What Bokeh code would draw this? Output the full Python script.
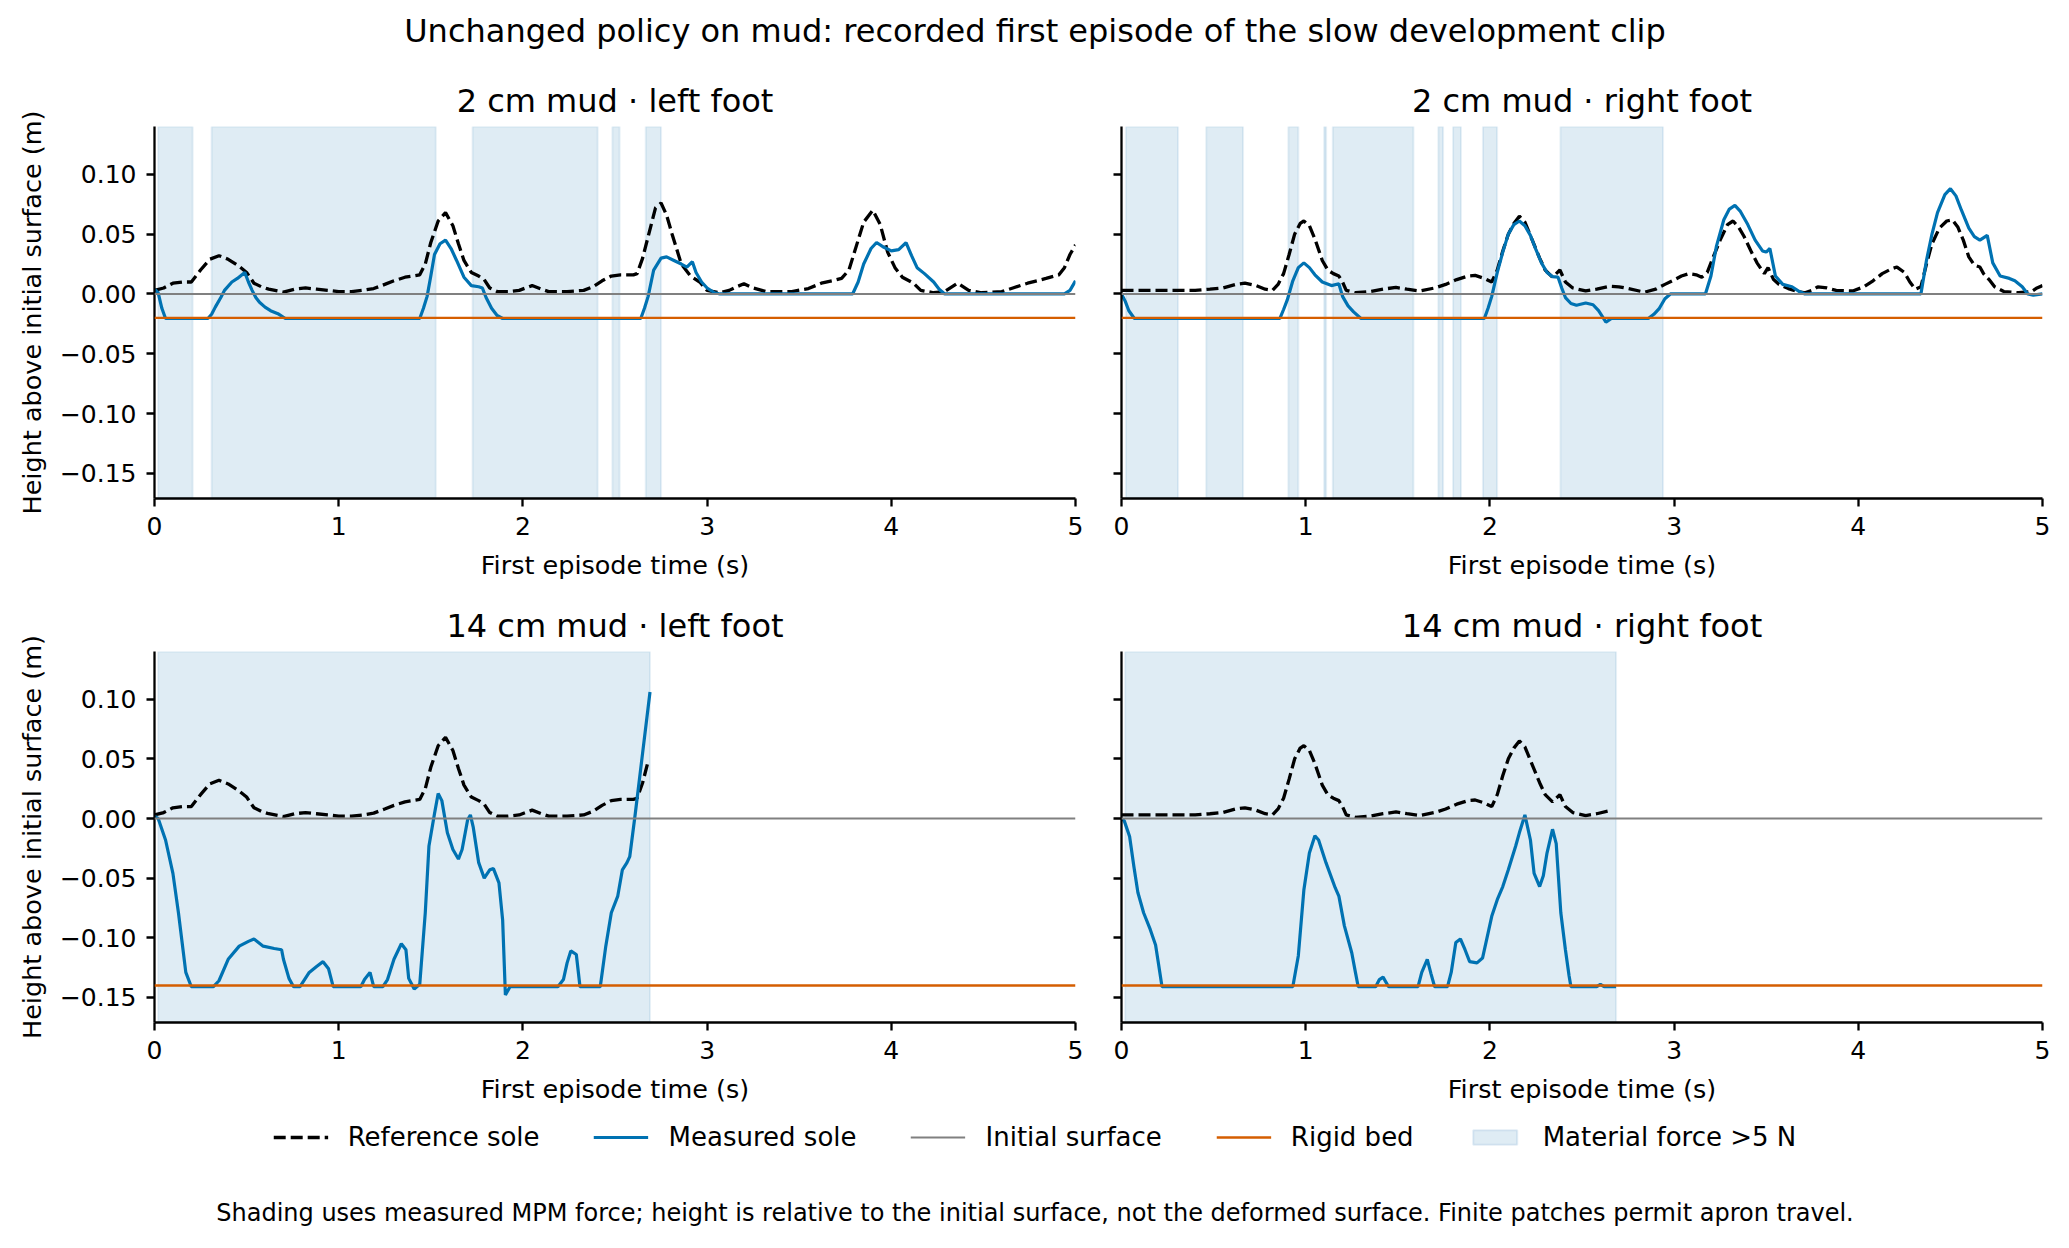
from bokeh.plotting import figure
from bokeh.layouts import column, row
from bokeh.models import (Range1d, FixedTicker, CustomJSTickFormatter, Span, Legend,
                          LegendItem, Title)
from bokeh.embed import file_html
from bokeh.resources import INLINE

FONT = "DejaVu Sans"
NAN = float("nan")

# ---------------- data ----------------
x_ticks = [0, 1, 2, 3, 4, 5]
y_ticks = [-0.15, -0.10, -0.05, 0.0, 0.05, 0.10]
y_lo, y_hi = -0.171, 0.140
initial_surface = 0.0
bed_2cm = -0.02
bed_14cm = -0.14
episode_end_14_left = 2.69
episode_end_14_right = 2.685

ref_left_t = [0.00,0.05,0.10,0.15,0.20,0.25,0.30,0.35,0.40,0.46,0.50,0.54,0.58,0.62,0.70,0.76,0.82,0.88,0.94,1.00,
              1.07,1.13,1.19,1.25,1.30,1.36,1.44,1.47,1.50,1.54,1.58,1.62,1.65,1.68,1.72,1.76,1.79,1.82,1.86,1.92,
              1.98,2.05,2.10,2.14,2.24,2.33,2.38,2.43,2.48,2.53,2.60,2.62,2.65,2.68,2.72,2.75,2.78,2.81,2.86,2.91,
              2.96,3.00,3.07,3.12,3.16,3.20,3.25,3.32,3.46,3.55,3.62,3.68,3.73,3.77,3.81,3.85,3.90,3.94,3.98,4.02,
              4.06,4.12,4.16,4.23,4.29,4.36,4.42,4.49,4.60,4.66,4.74,4.84,4.91,4.94,4.97,5.00]
ref_left_y = [0.003,0.005,0.009,0.010,0.010,0.020,0.029,0.032,0.029,0.023,0.018,0.009,0.006,0.004,0.0016,0.004,0.005,0.004,0.003,0.002,
              0.002,0.003,0.0045,0.008,0.011,0.014,0.016,0.025,0.043,0.061,0.068,0.057,0.042,0.028,0.018,0.015,0.012,0.005,0.002,0.002,
              0.003,0.007,0.004,0.002,0.002,0.003,0.006,0.011,0.015,0.016,0.016,0.017,0.030,0.048,0.072,0.076,0.066,0.050,0.025,0.015,
              0.010,0.003,0.001,0.003,0.006,0.0085,0.005,0.002,0.002,0.0045,0.009,0.011,0.013,0.020,0.040,0.060,0.070,0.058,0.035,0.022,
              0.014,0.009,0.003,0.001,0.002,0.009,0.003,0.001,0.002,0.005,0.009,0.013,0.016,0.022,0.033,0.041]

ref_right_t = [0.00,0.20,0.40,0.48,0.55,0.62,0.67,0.73,0.78,0.82,0.85,0.88,0.91,0.94,0.97,0.99,1.02,1.05,1.09,1.12,
               1.15,1.18,1.20,1.22,1.27,1.35,1.42,1.49,1.55,1.62,1.70,1.76,1.82,1.88,1.92,1.97,2.01,2.04,2.07,2.10,
               2.13,2.16,2.19,2.23,2.27,2.30,2.34,2.36,2.38,2.41,2.45,2.52,2.58,2.65,2.70,2.75,2.84,2.90,2.95,2.99,
               3.04,3.08,3.12,3.15,3.18,3.21,3.25,3.29,3.32,3.35,3.38,3.42,3.45,3.49,3.51,3.54,3.57,3.62,3.67,3.71,
               3.75,3.78,3.83,3.88,3.97,4.03,4.08,4.13,4.18,4.21,4.25,4.28,4.31,4.34,4.37,4.40,4.44,4.48,4.51,4.54,
               4.57,4.60,4.63,4.66,4.68,4.71,4.74,4.79,4.87,4.94,4.97,5.00]
ref_right_y = [0.003,0.003,0.003,0.004,0.005,0.008,0.009,0.007,0.004,0.003,0.008,0.017,0.033,0.050,0.059,0.061,0.057,0.046,0.028,0.020,
               0.017,0.015,0.010,0.003,0.001,0.002,0.004,0.0055,0.004,0.0025,0.005,0.008,0.012,0.015,0.0155,0.013,0.010,0.020,0.036,0.050,
               0.059,0.065,0.060,0.045,0.030,0.020,0.014,0.017,0.020,0.010,0.005,0.0025,0.004,0.0065,0.006,0.0045,0.0015,0.004,0.008,0.011,
               0.015,0.017,0.016,0.014,0.018,0.030,0.045,0.058,0.061,0.056,0.048,0.035,0.026,0.017,0.022,0.012,0.008,0.0045,0.002,0.001,
               0.003,0.006,0.005,0.003,0.0025,0.006,0.011,0.017,0.021,0.0225,0.018,0.010,0.004,0.006,0.025,0.042,0.055,0.061,0.062,0.056,
               0.045,0.031,0.024,0.0225,0.017,0.012,0.006,0.002,0.001,0.002,0.005,0.007]

meas_l2_t = [0.00,0.02,0.04,0.06,0.29,0.31,0.33,0.36,0.38,0.42,0.45,0.49,0.51,0.53,0.55,0.57,0.60,0.63,0.67,0.71,
             1.44,1.46,1.48,1.50,1.52,1.55,1.58,1.61,1.64,1.68,1.72,1.76,1.78,1.80,1.83,1.86,1.89,2.64,2.66,2.68,
             2.71,2.75,2.78,2.82,2.86,2.89,2.92,2.94,2.97,3.00,3.04,3.07,3.79,3.82,3.85,3.89,3.92,3.96,4.00,4.04,
             4.08,4.11,4.14,4.18,4.23,4.26,4.29,4.94,4.97,5.00]
meas_l2_y = [0.004,0.001,-0.012,-0.0205,-0.0205,-0.017,-0.011,-0.003,0.003,0.010,0.013,0.018,0.010,0.003,-0.003,-0.007,-0.011,-0.014,-0.0165,-0.0205,
             -0.0205,-0.012,-0.002,0.015,0.033,0.042,0.045,0.038,0.028,0.014,0.007,0.006,0.005,-0.003,-0.012,-0.018,-0.0205,-0.0205,-0.012,-0.002,
             0.020,0.030,0.031,0.028,0.025,0.0225,0.027,0.018,0.010,0.005,0.001,0.000,0.000,0.010,0.025,0.038,0.043,0.039,0.036,0.037,
             0.043,0.032,0.022,0.017,0.010,0.004,0.000,0.000,0.003,0.011]

meas_r2_t = [0.00,0.02,0.04,0.07,0.86,0.88,0.90,0.93,0.96,0.99,1.02,1.05,1.09,1.14,1.18,1.20,1.23,1.26,1.30,1.97,
             1.99,2.01,2.04,2.07,2.10,2.13,2.16,2.19,2.22,2.25,2.28,2.31,2.34,2.37,2.39,2.41,2.44,2.47,2.52,2.56,
             2.59,2.63,2.66,2.86,2.89,2.92,2.95,2.98,3.17,3.20,3.23,3.27,3.30,3.33,3.36,3.40,3.44,3.48,3.50,3.52,
             3.55,3.59,3.64,3.68,3.71,4.34,4.37,4.40,4.43,4.47,4.50,4.53,4.56,4.60,4.63,4.66,4.70,4.73,4.77,4.82,
             4.85,4.89,4.92,4.95,5.00]
meas_r2_y = [0.000,-0.006,-0.014,-0.0205,-0.0205,-0.013,-0.005,0.011,0.022,0.026,0.022,0.016,0.010,0.007,0.0085,-0.002,-0.010,-0.015,-0.0205,-0.0205,
             -0.012,-0.002,0.018,0.035,0.050,0.058,0.061,0.057,0.049,0.037,0.026,0.018,0.0145,0.014,0.005,-0.003,-0.008,-0.0095,-0.0075,-0.009,
             -0.014,-0.0235,-0.0205,-0.0205,-0.017,-0.012,-0.004,0.000,0.000,0.015,0.040,0.062,0.071,0.074,0.069,0.058,0.045,0.036,0.035,0.038,
             0.015,0.008,0.006,0.002,0.000,0.000,0.028,0.050,0.068,0.083,0.088,0.082,0.070,0.055,0.048,0.045,0.049,0.026,0.015,0.013,
             0.011,0.006,0.000,-0.001,0.000]

meas_l14_t = [0.00,0.02,0.06,0.10,0.13,0.17,0.20,0.32,0.35,0.40,0.46,0.51,0.54,0.59,0.65,0.69,0.70,0.73,0.755,0.79,
              0.84,0.88,0.915,0.945,0.97,1.12,1.14,1.17,1.19,1.24,1.265,1.30,1.34,1.365,1.38,1.41,1.44,1.47,1.49,1.52,
              1.54,1.56,1.59,1.62,1.65,1.67,1.70,1.715,1.73,1.76,1.79,1.82,1.84,1.87,1.89,1.905,1.93,2.19,2.22,2.24,
              2.26,2.29,2.31,2.42,2.45,2.48,2.515,2.54,2.565,2.58,2.61,2.65,2.69]
meas_l14_y = [0.002,0.000,-0.018,-0.046,-0.079,-0.129,-0.141,-0.141,-0.136,-0.118,-0.107,-0.103,-0.101,-0.107,-0.109,-0.110,-0.118,-0.134,-0.141,-0.141,
              -0.129,-0.124,-0.120,-0.126,-0.141,-0.141,-0.135,-0.129,-0.141,-0.141,-0.135,-0.118,-0.105,-0.110,-0.134,-0.143,-0.139,-0.079,-0.023,0.004,
              0.021,0.015,-0.012,-0.026,-0.034,-0.026,-0.001,0.003,-0.007,-0.037,-0.050,-0.043,-0.042,-0.054,-0.085,-0.148,-0.141,-0.141,-0.135,-0.121,
              -0.111,-0.114,-0.141,-0.141,-0.107,-0.079,-0.065,-0.043,-0.037,-0.032,0.004,0.055,0.106]

meas_r14_t = [0.00,0.015,0.044,0.067,0.089,0.12,0.156,0.185,0.20,0.22,0.93,0.96,0.99,1.02,1.05,1.07,1.11,1.16,1.18,1.21,
              1.25,1.27,1.285,1.38,1.40,1.42,1.45,1.61,1.63,1.66,1.68,1.70,1.77,1.79,1.815,1.84,1.865,1.89,1.93,1.96,
              1.99,2.01,2.04,2.07,2.10,2.14,2.16,2.19,2.22,2.24,2.27,2.29,2.31,2.34,2.36,2.385,2.41,2.43,2.44,2.58,
              2.60,2.62,2.685]
meas_r14_y = [0.000,-0.002,-0.015,-0.040,-0.062,-0.079,-0.093,-0.106,-0.121,-0.141,-0.141,-0.115,-0.060,-0.029,-0.0145,-0.018,-0.037,-0.058,-0.065,-0.090,
              -0.1125,-0.129,-0.141,-0.141,-0.135,-0.133,-0.141,-0.141,-0.129,-0.118,-0.130,-0.141,-0.141,-0.129,-0.104,-0.101,-0.110,-0.120,-0.121,-0.117,
              -0.096,-0.082,-0.068,-0.057,-0.043,-0.023,-0.012,0.003,-0.018,-0.046,-0.057,-0.048,-0.029,-0.009,-0.021,-0.079,-0.110,-0.132,-0.141,-0.141,
              -0.139,-0.141,-0.141]

shade_l2_start = [0.02, 0.31, 1.727, 2.486, 2.667]
shade_l2_end = [0.207, 1.527, 2.406, 2.525, 2.75]
shade_r2_start = [0.024, 0.46, 0.906, 1.10, 1.147, 1.72, 1.80, 1.962, 2.383]
shade_r2_end = [0.307, 0.66, 0.96, 1.111, 1.585, 1.746, 1.843, 2.039, 2.94]
shade_l14_start = [0.02]
shade_l14_end = [2.69]
shade_r14_start = [0.02]
shade_r14_end = [2.685]

for a, b in [(ref_left_t, ref_left_y), (ref_right_t, ref_right_y), (meas_l2_t, meas_l2_y),
             (meas_r2_t, meas_r2_y), (meas_l14_t, meas_l14_y), (meas_r14_t, meas_r14_y)]:
    assert len(a) == len(b), (len(a), len(b))

# ---------------- style ----------------
BLUE = "#0072B2"
ORANGE = "#D55E00"
GREY = "#808080"
SHADE = "#1f77b4"
DASH = "12 5"
LW_REF = 3.3
LW_MEAS = 3.2

LEFT_W, RIGHT_W = 1098, 971
TOP_H, BOT_H = 526, 524

y_fmt = CustomJSTickFormatter(code="""
const s = Math.abs(tick).toFixed(2);
return tick < -1e-9 ? '\\u2212' + s : s;
""")
blank_fmt = CustomJSTickFormatter(code="return '';")


def style_axis(ax):
    ax.axis_line_width = 2.3
    ax.axis_line_color = "black"
    ax.major_tick_line_width = 2.3
    ax.major_tick_out = 8
    ax.major_tick_in = 0
    ax.minor_tick_line_color = None
    ax.major_label_text_font = FONT
    ax.major_label_text_font_size = "25px"
    ax.major_label_text_color = "black"
    ax.major_label_standoff = 10
    ax.axis_label_text_font = FONT
    ax.axis_label_text_font_size = "25.5px"
    ax.axis_label_text_font_style = "normal"
    ax.axis_label_text_color = "black"


def panel(title, ref_t, ref_y, t, y, s0, s1, bed, end, left, top):
    w = LEFT_W if left else RIGHT_W
    h = TOP_H if top else BOT_H
    p = figure(width=w, height=h, x_range=Range1d(0, 5), y_range=Range1d(y_lo, y_hi),
               output_backend="svg", toolbar_location=None,
               min_border_left=154 if left else 23,
               min_border_right=23 if left else 27,
               min_border_top=62 if top else 61,
               min_border_bottom=92)
    p.outline_line_color = None
    p.grid.visible = False
    p.background_fill_color = "white"
    p.border_fill_color = "white"
    p.title.text = title
    p.title.align = "center"
    p.title.text_font = FONT
    p.title.text_font_size = "32px"
    p.title.text_font_style = "normal"
    p.title.text_color = "black"
    p.title.standoff = 13

    p.quad(left=s0, right=s1, bottom=[y_lo] * len(s0), top=[y_hi] * len(s0),
           fill_color=SHADE, fill_alpha=0.14, line_color=SHADE, line_alpha=0.10, line_width=2)
    rt = [a for a in ref_t if end is None or a <= end]
    ry = [b for a, b in zip(ref_t, ref_y) if end is None or a <= end]
    p.line(rt, ry, line_color="black", line_width=LW_REF, line_dash=DASH)
    p.line(t, y, line_color=BLUE, line_width=LW_MEAS)
    p.add_layout(Span(location=initial_surface, dimension="width", line_color=GREY, line_width=2.0))
    p.add_layout(Span(location=bed, dimension="width", line_color=ORANGE, line_width=2.4))

    p.xaxis.ticker = FixedTicker(ticks=x_ticks)
    p.yaxis.ticker = FixedTicker(ticks=y_ticks)
    p.xaxis.axis_label = "First episode time (s)"
    p.xaxis.axis_label_standoff = 12
    style_axis(p.xaxis[0])
    style_axis(p.yaxis[0])
    if left:
        p.yaxis.formatter = y_fmt
        p.yaxis.axis_label = "Height above initial surface (m)"
        p.yaxis.axis_label_standoff = 10
    else:
        p.yaxis.formatter = blank_fmt
        p.yaxis.major_label_standoff = 0
    return p


tl = panel("2 cm mud \u00b7 left foot", ref_left_t, ref_left_y, meas_l2_t, meas_l2_y,
           shade_l2_start, shade_l2_end, bed_2cm, None, True, True)
tr = panel("2 cm mud \u00b7 right foot", ref_right_t, ref_right_y, meas_r2_t, meas_r2_y,
           shade_r2_start, shade_r2_end, bed_2cm, None, False, True)
bl = panel("14 cm mud \u00b7 left foot", ref_left_t, ref_left_y, meas_l14_t, meas_l14_y,
           shade_l14_start, shade_l14_end, bed_14cm, episode_end_14_left, True, False)
br = panel("14 cm mud \u00b7 right foot", ref_right_t, ref_right_y, meas_r14_t, meas_r14_y,
           shade_r14_start, shade_r14_end, bed_14cm, episode_end_14_right, False, False)

FULL_W = LEFT_W + RIGHT_W

# header with the main title
hdr = figure(width=FULL_W, height=64, output_backend="svg", toolbar_location=None,
             x_axis_location=None, y_axis_location=None,
             min_border_left=0, min_border_right=0, min_border_bottom=0, min_border_top=49,
             x_range=Range1d(0, 1), y_range=Range1d(0, 1))
hdr.outline_line_color = None
hdr.grid.visible = False
hdr.title.text = "Unchanged policy on mud: recorded first episode of the slow development clip"
hdr.title.align = "center"
hdr.title.text_font = FONT
hdr.title.text_font_size = "32px"
hdr.title.text_font_style = "normal"
hdr.title.text_color = "black"
hdr.title.standoff = 0

# legend + footnote
lg = figure(width=FULL_W, height=117, output_backend="svg", toolbar_location=None,
            x_axis_location=None, y_axis_location=None, min_border=0,
            x_range=Range1d(0, 1), y_range=Range1d(0, 1))
lg.outline_line_color = None
lg.grid.visible = False
r1 = lg.line([NAN], [NAN], line_color="black", line_width=LW_REF, line_dash=DASH)
r2 = lg.line([NAN], [NAN], line_color=BLUE, line_width=LW_MEAS)
r3 = lg.line([NAN], [NAN], line_color=GREY, line_width=2.0)
r4 = lg.line([NAN], [NAN], line_color=ORANGE, line_width=2.4)
r5 = lg.quad(left=[NAN], right=[NAN], top=[NAN], bottom=[NAN], fill_color=SHADE, fill_alpha=0.14,
             line_color=SHADE, line_alpha=0.12, line_width=2)
legend = Legend(items=[LegendItem(label="Reference sole", renderers=[r1]),
                       LegendItem(label="Measured sole", renderers=[r2]),
                       LegendItem(label="Initial surface", renderers=[r3]),
                       LegendItem(label="Rigid bed", renderers=[r4]),
                       LegendItem(label="Material force >5 N", renderers=[r5])],
                orientation="horizontal", location="top_center",
                label_text_font=FONT, label_text_font_size="26px", label_text_color="black",
                glyph_width=55, glyph_height=18, label_standoff=20, spacing=54,
                padding=0, margin=8, border_line_color=None, background_fill_alpha=0)
lg.add_layout(legend, "center")
foot = Title(text="Shading uses measured MPM force; height is relative to the initial surface, "
                  "not the deformed surface. Finite patches permit apron travel.",
             align="center", text_font=FONT, text_font_size="24px", text_font_style="normal",
             text_color="black", standoff=10)
lg.add_layout(foot, "below")

layout = column(hdr, row(tl, tr), row(bl, br), lg)

with open("out.html", "w") as f:
    f.write(file_html(layout, INLINE))
